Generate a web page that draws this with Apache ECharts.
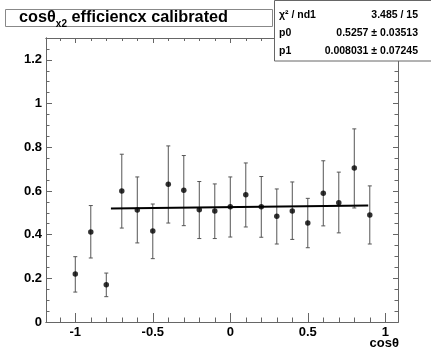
<!DOCTYPE html>
<html>
<head>
<meta charset="utf-8">
<script src="https://cdn.jsdelivr.net/npm/echarts@6/dist/echarts.min.js"></script>
<style>
html,body{margin:0;padding:0;background:#fff;}
#c{width:431px;height:351px;}
</style>
</head>
<body>
<div id="c"></div>
<script>
// ---- data ----
const cosTheta = [-1.0,-0.9,-0.8,-0.7,-0.6,-0.5,-0.4,-0.3,-0.2,-0.1,0.0,0.1,0.2,0.3,0.4,0.5,0.6,0.7,0.8,0.9];
const efficiency = [0.220,0.412,0.171,0.600,0.513,0.417,0.630,0.603,0.514,0.508,0.527,0.582,0.527,0.484,0.508,0.453,0.589,0.546,0.705,0.490];
const errLower = [0.137,0.293,0.116,0.430,0.362,0.290,0.453,0.441,0.382,0.382,0.389,0.435,0.388,0.357,0.378,0.340,0.440,0.408,0.522,0.357];
const errUpper = [0.299,0.533,0.224,0.768,0.664,0.540,0.806,0.762,0.643,0.632,0.664,0.728,0.666,0.609,0.641,0.566,0.738,0.686,0.884,0.623];
const fitX = [-0.77, 0.89];
const fitY = [0.519, 0.533];
const xMajorTicks = [-1,-0.5,0,0.5,1];
const xMinorTicks = [-1.1,-0.9,-0.8,-0.7,-0.6,-0.4,-0.3,-0.2,-0.1,0.1,0.2,0.3,0.4,0.6,0.7,0.8,0.9];
const yMajorTicks = [0,0.2,0.4,0.6,0.8,1,1.2];
const yMinorTicks = [0.05,0.1,0.15,0.25,0.3,0.35,0.45,0.5,0.55,0.65,0.7,0.75,0.85,0.9,0.95,1.05,1.1,1.15,1.25];
const statsRows = [
  ['\u03c7\u00b2 / nd1', '3.485 / 15'],
  ['p0', '0.5257 \u00b1 0.03513'],
  ['p1', '0.008031 \u00b1 0.07245']
];
const xTitle = 'cos\u03b8';

const X_MIN = -1.189, X_MAX = 1.082, Y_MIN = 0, Y_MAX = 1.3;
const FONT = '"Liberation Sans", Arial, Helvetica, sans-serif';
const frameColor = '#666';

function xAxisDef(pos, ticks, len, labels) {
  return {
    type: 'value', position: pos, min: X_MIN, max: X_MAX,
    axisLine: { show: true, onZero: false, lineStyle: { color: frameColor, width: 1 } },
    axisTick: { show: true, inside: true, length: len, customValues: ticks, lineStyle: { color: frameColor } },
    axisLabel: labels ? { show: true, customValues: ticks, margin: 4, color: '#000', fontSize: 13, fontWeight: 'bold', fontFamily: FONT } : { show: false },
    splitLine: { show: false }
  };
}
function yAxisDef(pos, ticks, len, labels) {
  return {
    type: 'value', position: pos, min: Y_MIN, max: Y_MAX,
    axisLine: { show: true, onZero: false, lineStyle: { color: frameColor, width: 1 } },
    axisTick: { show: true, inside: true, length: len, customValues: ticks, lineStyle: { color: frameColor } },
    axisLabel: labels ? { show: true, customValues: ticks, margin: 4, color: '#000', fontSize: 13, fontWeight: 'bold', fontFamily: FONT } : { show: false },
    splitLine: { show: false }
  };
}

const chart = echarts.init(document.getElementById('c'), null, { renderer: 'canvas' });

const statsGraphics = [];
statsRows.forEach((r, i) => {
  const cy = 15 + i * 18.3;
  statsGraphics.push({ type: 'text', z: 101, x: 279, y: cy, style: { text: r[0], font: 'bold 10.5px ' + FONT, fill: '#000', textVerticalAlign: 'middle', textAlign: 'left' } });
  statsGraphics.push({ type: 'text', z: 101, x: 418, y: cy, style: { text: r[1], font: 'bold 10.5px ' + FONT, fill: '#000', textVerticalAlign: 'middle', textAlign: 'right' } });
});

chart.setOption({
  animation: false,
  backgroundColor: '#fff',
  grid: { left: 46, right: 33, top: 38, bottom: 29, show: false },
  xAxis: [
    xAxisDef('bottom', xMajorTicks, 9, true),
    xAxisDef('bottom', xMinorTicks, 4.5, false),
    xAxisDef('top', xMajorTicks, 5, false),
    xAxisDef('top', xMinorTicks, 3, false)
  ],
  yAxis: [
    yAxisDef('left', yMajorTicks, 6, true),
    yAxisDef('left', yMinorTicks, 3.5, false),
    yAxisDef('right', yMajorTicks, 5, false),
    yAxisDef('right', yMinorTicks, 3.5, false)
  ],
  series: [
    {
      type: 'custom',
      xAxisIndex: 0, yAxisIndex: 0,
      data: cosTheta.map((x, i) => [x, errLower[i], errUpper[i]]),
      encode: { x: 0, y: [1, 2] },
      renderItem: function (params, api) {
        const x = api.value(0);
        const lo = api.coord([x, api.value(1)]);
        const hi = api.coord([x, api.value(2)]);
        const w = 2;
        const st = { stroke: '#555', lineWidth: 1 };
        return {
          type: 'group',
          children: [
            { type: 'line', shape: { x1: lo[0], y1: lo[1], x2: hi[0], y2: hi[1] }, style: st },
            { type: 'line', shape: { x1: lo[0] - w, y1: lo[1], x2: lo[0] + w, y2: lo[1] }, style: st },
            { type: 'line', shape: { x1: hi[0] - w, y1: hi[1], x2: hi[0] + w, y2: hi[1] }, style: st }
          ]
        };
      },
      z: 2
    },
    {
      type: 'line',
      xAxisIndex: 0, yAxisIndex: 0,
      data: fitX.map((x, i) => [x, fitY[i]]),
      showSymbol: false, symbol: 'none',
      lineStyle: { color: '#000', width: 2 },
      z: 3
    },
    {
      type: 'scatter',
      xAxisIndex: 0, yAxisIndex: 0,
      data: cosTheta.map((x, i) => [x, efficiency[i]]),
      symbol: 'circle', symbolSize: 5.5,
      itemStyle: { color: '#000' },
      z: 4
    }
  ],
  graphic: [
    { type: 'rect', z: 100, shape: { x: 5.5, y: 9.5, width: 267, height: 17 }, style: { fill: '#fff', stroke: '#888', lineWidth: 1 } },
    {
      type: 'text', z: 101, x: 19, y: 18,
      style: {
        text: '{a|cos\u03b8}{s|x2}{a| efficiencx calibrated}',
        textVerticalAlign: 'middle',
        rich: {
          a: { fontFamily: FONT, fontWeight: 'bold', fontSize: 16.3, fill: '#000', lineHeight: 20, verticalAlign: 'middle' },
          s: { fontFamily: FONT, fontWeight: 'bold', fontSize: 10, fill: '#000', lineHeight: 22, verticalAlign: 'bottom', padding: [0, 0, 0, 0] }
        }
      }
    },
    { type: 'rect', z: 100, shape: { x: 274.5, y: 0.5, width: 160, height: 60.5 }, style: { fill: '#fff', stroke: '#666', lineWidth: 1 } },
    ...statsGraphics,
    { type: 'text', z: 101, x: 399, y: 343, style: { text: xTitle, font: 'bold 13px ' + FONT, fill: '#000', textAlign: 'right', textVerticalAlign: 'middle' } }
  ]
});
</script>
</body>
</html>
